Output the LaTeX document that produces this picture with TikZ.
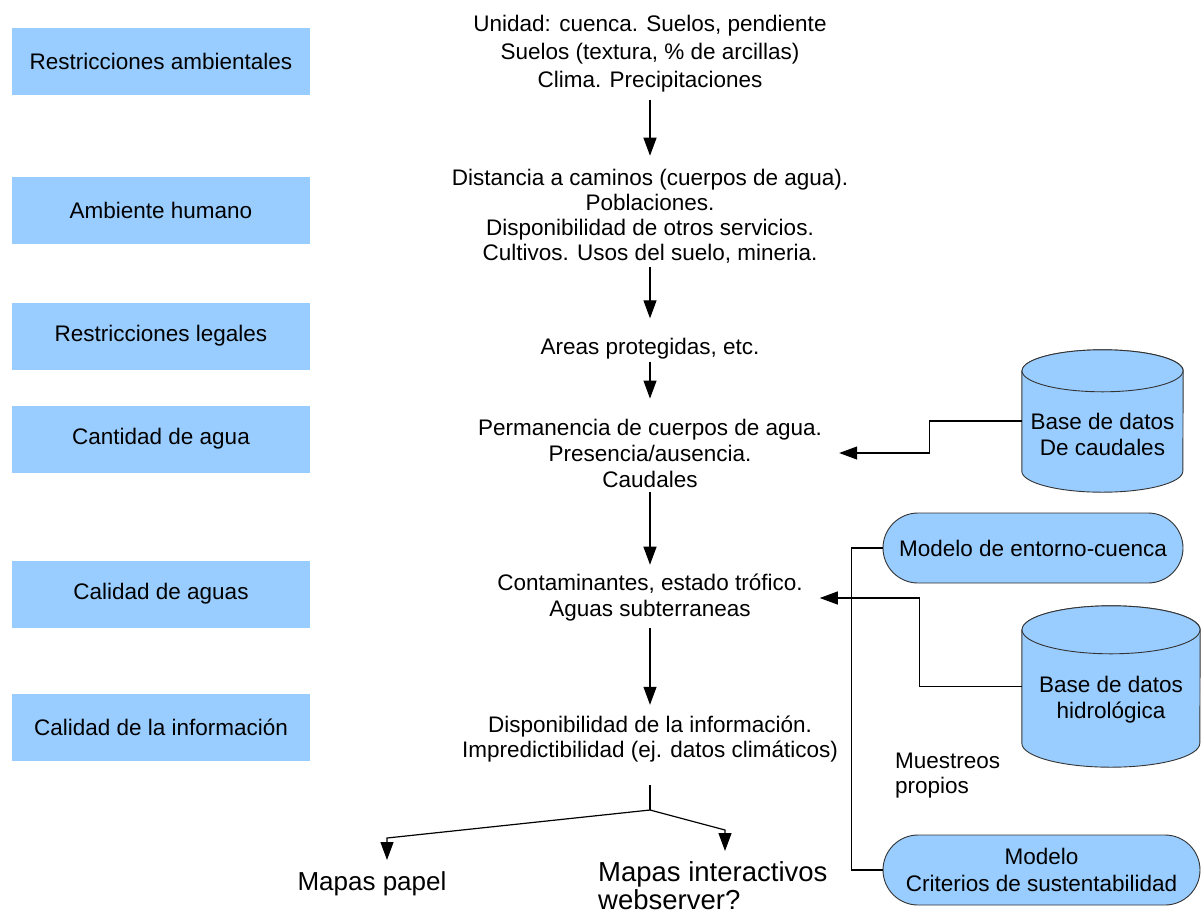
\documentclass[tikz,border=0pt]{standalone}
\usepackage{fontspec}
\setmainfont{Liberation Sans}
\usetikzlibrary{arrows.meta,calc}
\definecolor{boxblue}{HTML}{99CCFF}
\definecolor{edgegray}{HTML}{333333}
\newcommand{\drawcyl}[3]{%
  \filldraw[cylstyle] ([yshift=-#3]#1.north west) -- ([yshift=#3]#1.south west)
    arc[start angle=180,end angle=360,x radius=#2,y radius=#3]
    -- ([yshift=-#3]#1.north east)
    arc[start angle=0,end angle=180,x radius=#2,y radius=#3] -- cycle;
  \draw[cylstyle] ([yshift=-#3]#1.north) ellipse[x radius=#2,y radius=#3];}
\begin{document}
\begin{tikzpicture}[x=1pt,y=-1pt,
  every node/.style={font=\fontsize{22.5}{26}\selectfont, inner sep=0pt},
  leftbox/.style={fill=boxblue, minimum width=298pt, minimum height=67pt},
  ctext/.style={align=center},
  arr/.style={-{Triangle[length=18pt,width=13pt]}, line width=1.2pt, black},
  link/.style={line width=1.1pt, black},
  stadium/.style={draw=edgegray, fill=boxblue, line width=0.9pt, rounded corners=35pt, minimum height=70pt, align=center},
  cylstyle/.style={draw=edgegray, fill=boxblue, line width=0.9pt},
  cylbody/.style={minimum width=#1, minimum height=142pt},
  bigtext/.style={font=\fontsize{26}{28}\selectfont}]
\useasboundingbox (0,0) rectangle (1201,916);

% left column
\node[leftbox] (l1) at (161,61.5) {Restricciones ambientales};
\node[leftbox] (l2) at (161,210) {Ambiente humano};
\node[leftbox] (l3) at (161,336) {Restricciones legales};
\node[leftbox] (l4) at (161,439) {Cantidad de agua};
\node[leftbox] (l5) at (161,594) {Calidad de aguas};
\node[leftbox] (l6) at (161,727) {Calidad de la información};

% central texts
\node[ctext, font=\fontsize{22.5}{28}\selectfont] (t1) at (650,54)
  {Unidad: cuenca. Suelos, pendiente\\Suelos (textura, \% de arcillas)\\Clima. Precipitaciones};
\node[ctext, font=\fontsize{22.5}{25}\selectfont] (t2) at (650,216.6)
  {Distancia a caminos (cuerpos de agua).\\Poblaciones.\\Disponibilidad de otros servicios.\\Cultivos. Usos del suelo, mineria.};
\node[ctext] (t3) at (650,349) {Areas protegidas, etc.};
\node[ctext, font=\fontsize{22.5}{26}\selectfont] (t4) at (650,453)
  {Permanencia de cuerpos de agua.\\Presencia/ausencia.\\Caudales};
\node[ctext, font=\fontsize{22.5}{26}\selectfont] (t5) at (650,598)
  {Contaminantes, estado trófico.\\Aguas subterraneas};
\node[ctext, font=\fontsize{22.5}{25}\selectfont] (t6) at (650,738.6)
  {Disponibilidad de la información.\\Impredictibilidad (ej. datos climáticos)};

% vertical arrows
\draw[arr] ([yshift=-7pt]t1.south) -- ([yshift=13.6pt]t2.north);
\draw[arr] ([yshift=-3.5pt]t2.south) -- ([yshift=20pt]t3.north);
\draw[arr] ([yshift=-2.5pt]t3.south) -- ([yshift=20pt]t4.north);
\draw[arr] ([yshift=-5pt]t4.south) -- ([yshift=9.5pt]t5.north);
\draw[arr] ([yshift=-6.5pt]t5.south) -- ([yshift=10.5pt]t6.north);

% outputs
\node[bigtext] (mp) at (372,884) {Mapas papel};
\node[anchor=west, align=left, font=\fontsize{27.5}{28}\selectfont] (mi) at (598,886) {Mapas interactivos\\webserver?};
\coordinate (j) at (650,810);
\coordinate (lc) at (387,838);
\coordinate (rc) at (725,830);
\draw[link] ([yshift=-23pt]t6.south) -- (j);
\draw[arr] (j) -- (lc) -- ++(0,22);
\draw[arr] (j) -- (rc) -- ++(0,21);

% right side: databases and models
\node[cylbody=161pt] (c1) at (1102.5,421) {};
\drawcyl{c1}{80.5pt}{21pt}
\node[ctext] (c1t) at ([yshift=-13.5pt]c1.center) {Base de datos\\De caudales};

\node[minimum width=178pt, minimum height=161pt] (c2) at (1111,686.5) {};
\drawcyl{c2}{89pt}{24pt}
\node[ctext] (c2t) at ([yshift=-13pt]c2.center) {Base de datos\\hidrológica};

\node[stadium, minimum width=300pt] (m1) at (1033,548) {Modelo de entorno-cuenca};
\node[stadium, minimum width=317pt, font=\fontsize{22.5}{27}\selectfont] (m2) at (1041.5,870)
  {Modelo\\Criterios de sustentabilidad};

\node[anchor=west, align=left, font=\fontsize{22.5}{25}\selectfont] (mu) at (895,776) {Muestreos\\propios};

% connectors
\draw[arr] (c1.west) -- ++(-92,0) |- ([xshift=17pt]t4.east);
\draw[arr] (c2.west) -- ++(-102,0) |- ([xshift=17pt]t5.east);
\draw[link] (m1.west) -- ++(-31,0) |- (m2.west);
\end{tikzpicture}
\end{document}
